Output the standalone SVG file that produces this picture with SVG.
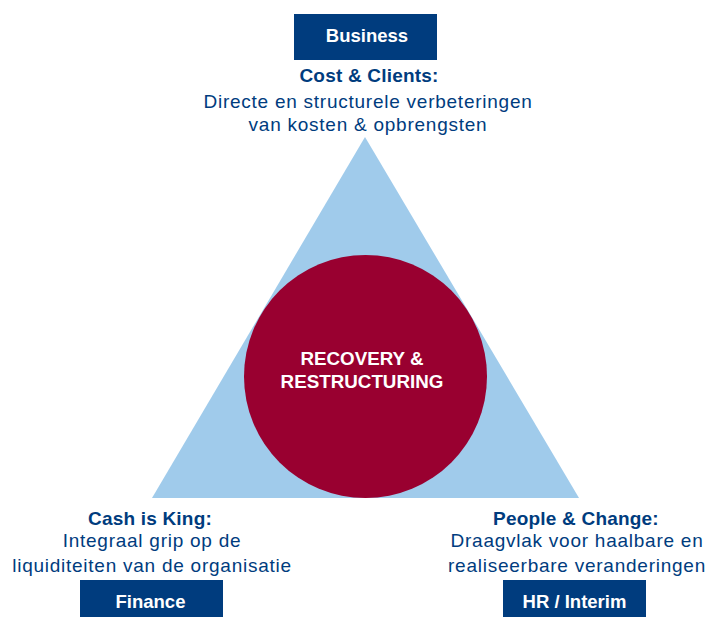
<svg xmlns="http://www.w3.org/2000/svg" width="708" height="617" viewBox="0 0 708 617">
<style>
.box{fill:#003C7E}
.bt{font-family:"Liberation Sans",Arial,sans-serif;font-weight:bold;font-size:18.5px;fill:#fff;text-anchor:middle}
.h{font-family:"Liberation Sans",Arial,sans-serif;font-weight:bold;font-size:19px;letter-spacing:0.2px;fill:#003C7E;text-anchor:middle}
.t{font-family:"Liberation Sans",Arial,sans-serif;font-size:19px;letter-spacing:0.75px;fill:#003C7E;text-anchor:middle}
.c{font-family:"Liberation Sans",Arial,sans-serif;font-weight:bold;font-size:18.8px;fill:#fff;text-anchor:middle}
</style>
<rect width="708" height="617" fill="#fff"/>
<g id="triangle"><polygon points="365,137 152,498 579,498" fill="#A0CBEB"/></g>
<g id="center">
<circle cx="365.5" cy="376.5" r="121.5" fill="#990030"/>
<text class="c" x="362" y="365">RECOVERY &amp;</text>
<text class="c" x="362" y="388">RESTRUCTURING</text>
</g>
<g id="business">
<rect class="box" x="294" y="14" width="143" height="46"/>
<text class="bt" x="367" y="42">Business</text>
<text class="h" x="369" y="82">Cost &amp; Clients:</text>
<text class="t" x="368" y="108">Directe en structurele verbeteringen</text>
<text class="t" x="368" y="131">van kosten &amp; opbrengsten</text>
</g>
<g id="finance">
<rect class="box" x="80" y="580" width="143" height="37"/>
<text class="bt" x="150.5" y="608">Finance</text>
<text class="h" x="150" y="525">Cash is King:</text>
<text class="t" x="152" y="547">Integraal grip op de</text>
<text class="t" x="152" y="572">liquiditeiten van de organisatie</text>
</g>
<g id="hr">
<rect class="box" x="503" y="580" width="143" height="37"/>
<text class="bt" x="574.5" y="608">HR / Interim</text>
<text class="h" x="576" y="525">People &amp; Change:</text>
<text class="t" x="577" y="547">Draagvlak voor haalbare en</text>
<text class="t" x="577" y="572">realiseerbare veranderingen</text>
</g>
<g id="connectors"></g>
</svg>
